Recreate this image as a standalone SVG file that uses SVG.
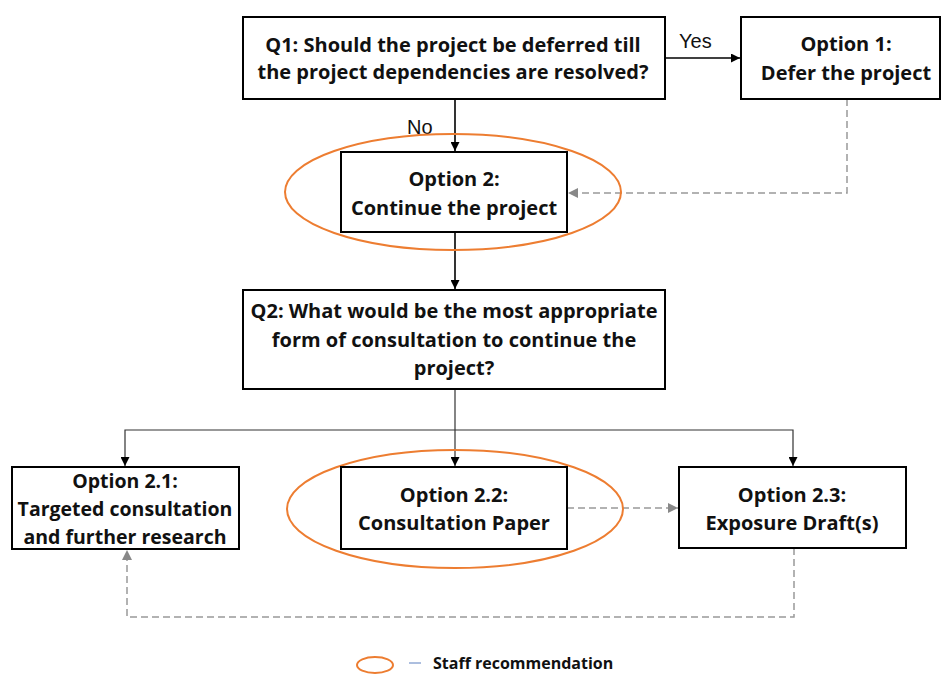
<svg xmlns="http://www.w3.org/2000/svg" width="941" height="675" viewBox="0 0 941 675">
<style>
.box{fill:#fff;stroke:#000;stroke-width:2}
.t{font-family:"Open Sans","Liberation Sans",sans-serif;font-weight:bold;font-size:20px;text-anchor:middle;fill:#111}
.t2{font-size:19.5px}
.lbl{font-family:"Liberation Sans",sans-serif;font-size:20px;fill:#111}
.solid{fill:none;stroke:#000;stroke-width:1.6}
.thin{fill:none;stroke:#333;stroke-width:1.2}
.dash{fill:none;stroke:#999;stroke-width:1.5;stroke-dasharray:7,4}
.ell{fill:none;stroke:#ED7D31;stroke-width:2}
</style>
<defs>
<marker id="ab" viewBox="0 0 10 10" refX="10" refY="5" markerWidth="9" markerHeight="9" markerUnits="userSpaceOnUse" orient="auto"><path d="M0,0L10,5L0,10z" fill="#000"/></marker>
<marker id="ag" viewBox="0 0 10 10" refX="10" refY="5" markerWidth="10" markerHeight="10" markerUnits="userSpaceOnUse" orient="auto"><path d="M0,0L10,5L0,10z" fill="#888"/></marker>
</defs>
<g id="connectors">
<path class="solid" d="M665,58H740" marker-end="url(#ab)"/>
<path class="solid" d="M455,99V151" marker-end="url(#ab)"/>
<path class="dash" d="M847,99V193H568" marker-end="url(#ag)"/>
<path class="solid" d="M455,232V289" marker-end="url(#ab)"/>
<path class="thin" d="M455,389V466" marker-end="url(#ab)"/>
<path class="thin" d="M455,430H125V466" marker-end="url(#ab)"/>
<path class="thin" d="M455,430H793V466" marker-end="url(#ab)"/>
<path class="dash" d="M567,508H678" marker-end="url(#ag)"/>
<path class="dash" d="M794,548V617H127V550" marker-end="url(#ag)"/>
<text class="lbl" x="679" y="48">Yes</text>
<text class="lbl" x="407" y="134">No</text>
</g>
<g id="q1">
<rect class="box" x="243" y="17" width="422" height="82"/>
<text class="t" x="453" y="52">Q1: Should the project be deferred till</text>
<text class="t" x="453" y="79">the project dependencies are resolved?</text>
</g>
<g id="opt1">
<rect class="box" x="741" y="17" width="199" height="82"/>
<text class="t" x="846" y="51">Option 1:</text>
<text class="t" x="846" y="80">Defer the project</text>
</g>
<g id="opt2">
<ellipse class="ell" cx="453" cy="192" rx="168" ry="58"/>
<rect class="box" x="341" y="152" width="226" height="80"/>
<text class="t" x="454" y="186">Option 2:</text>
<text class="t" x="454" y="215">Continue the project</text>
</g>
<g id="q2">
<rect class="box" x="243" y="290" width="422" height="99"/>
<text class="t" x="454" y="318">Q2: What would be the most appropriate</text>
<text class="t" x="454" y="347">form of consultation to continue the</text>
<text class="t" x="454" y="375">project?</text>
</g>
<g id="opt21">
<rect class="box" x="12" y="467" width="227" height="82"/>
<text class="t t2" x="125" y="488">Option 2.1:</text>
<text class="t t2" x="125" y="516">Targeted consultation</text>
<text class="t t2" x="125" y="544">and further research</text>
</g>
<g id="opt22">
<ellipse class="ell" cx="455" cy="509" rx="168" ry="59"/>
<rect class="box" x="341" y="467" width="226" height="82"/>
<text class="t" x="454" y="502">Option 2.2:</text>
<text class="t" x="454" y="530">Consultation Paper</text>
</g>
<g id="opt23">
<rect class="box" x="679" y="467" width="227" height="81"/>
<text class="t" x="792" y="502">Option 2.3:</text>
<text class="t" x="792" y="530">Exposure Draft(s)</text>
</g>
<g id="legend">
<ellipse class="ell" cx="375" cy="665" rx="18" ry="8"/>
<path d="M409,663H421" stroke="#5B7FBF" stroke-width="1"/>
<text x="433" y="669" style="font-family:'Open Sans','Liberation Sans',sans-serif;font-weight:bold;font-size:16px;fill:#111">Staff recommendation</text>
</g>
</svg>
